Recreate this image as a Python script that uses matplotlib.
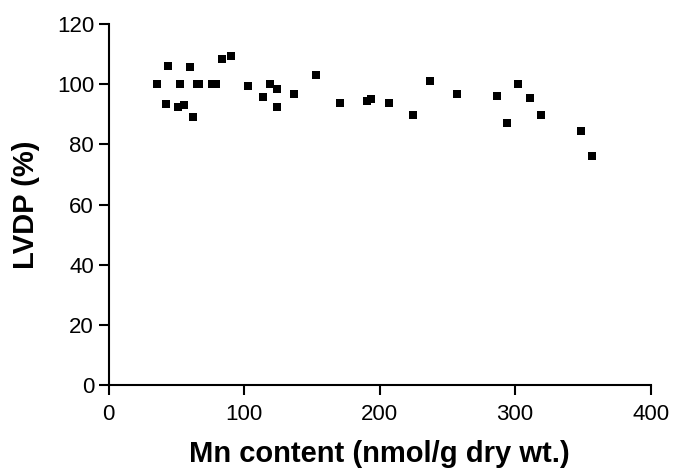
import matplotlib
matplotlib.use('Agg')
import matplotlib.pyplot as plt

plt.rcParams['font.family'] = ['Liberation Sans', 'DejaVu Sans']

# Mn content (nmol/g dry wt.) vs LVDP (%)
mn_content = [36, 42, 44, 51, 53, 56, 60, 62, 65, 67, 76, 79, 84, 90,
              103, 114, 119, 124.5, 124, 137, 153, 171, 191, 194, 207,
              225, 237, 257, 287, 294, 302, 311, 319, 349, 357]
lvdp = [100, 93.5, 106.2, 92.3, 100, 93.1, 105.8, 89.2, 100, 100, 100, 100,
        108.4, 109.5, 99.4, 95.8, 100, 98.5, 92.5, 96.7, 103.1, 93.8, 94.3,
        95.0, 93.9, 89.9, 100.9, 96.9, 96.2, 87.0, 99.9, 95.4, 89.9, 84.5, 76.1]

fig = plt.figure(figsize=(6.73, 4.71), dpi=100)
ax = fig.add_axes([0.1614, 0.1826, 0.8053, 0.7664])

ax.scatter(mn_content, lvdp, marker='s', s=38, color='black', linewidths=0)

ax.set_xlim(0, 400)
ax.set_ylim(0, 120)
ax.set_xticks([0, 100, 200, 300, 400])
ax.set_yticks([0, 20, 40, 60, 80, 100, 120])

ax.spines['top'].set_visible(False)
ax.spines['right'].set_visible(False)
ax.spines['left'].set_linewidth(1.5)
ax.spines['bottom'].set_linewidth(1.5)
ax.tick_params(direction='out', length=7.5, width=1.5, labelsize=16, pad=3)
ax.tick_params(axis='x', pad=6)

ax.set_xlabel('Mn content (nmol/g dry wt.)', fontsize=21, fontweight='bold', labelpad=11)
ax.set_ylabel('LVDP (%)', fontsize=21, fontweight='bold', labelpad=12)

plt.savefig('out.png', dpi=100)
